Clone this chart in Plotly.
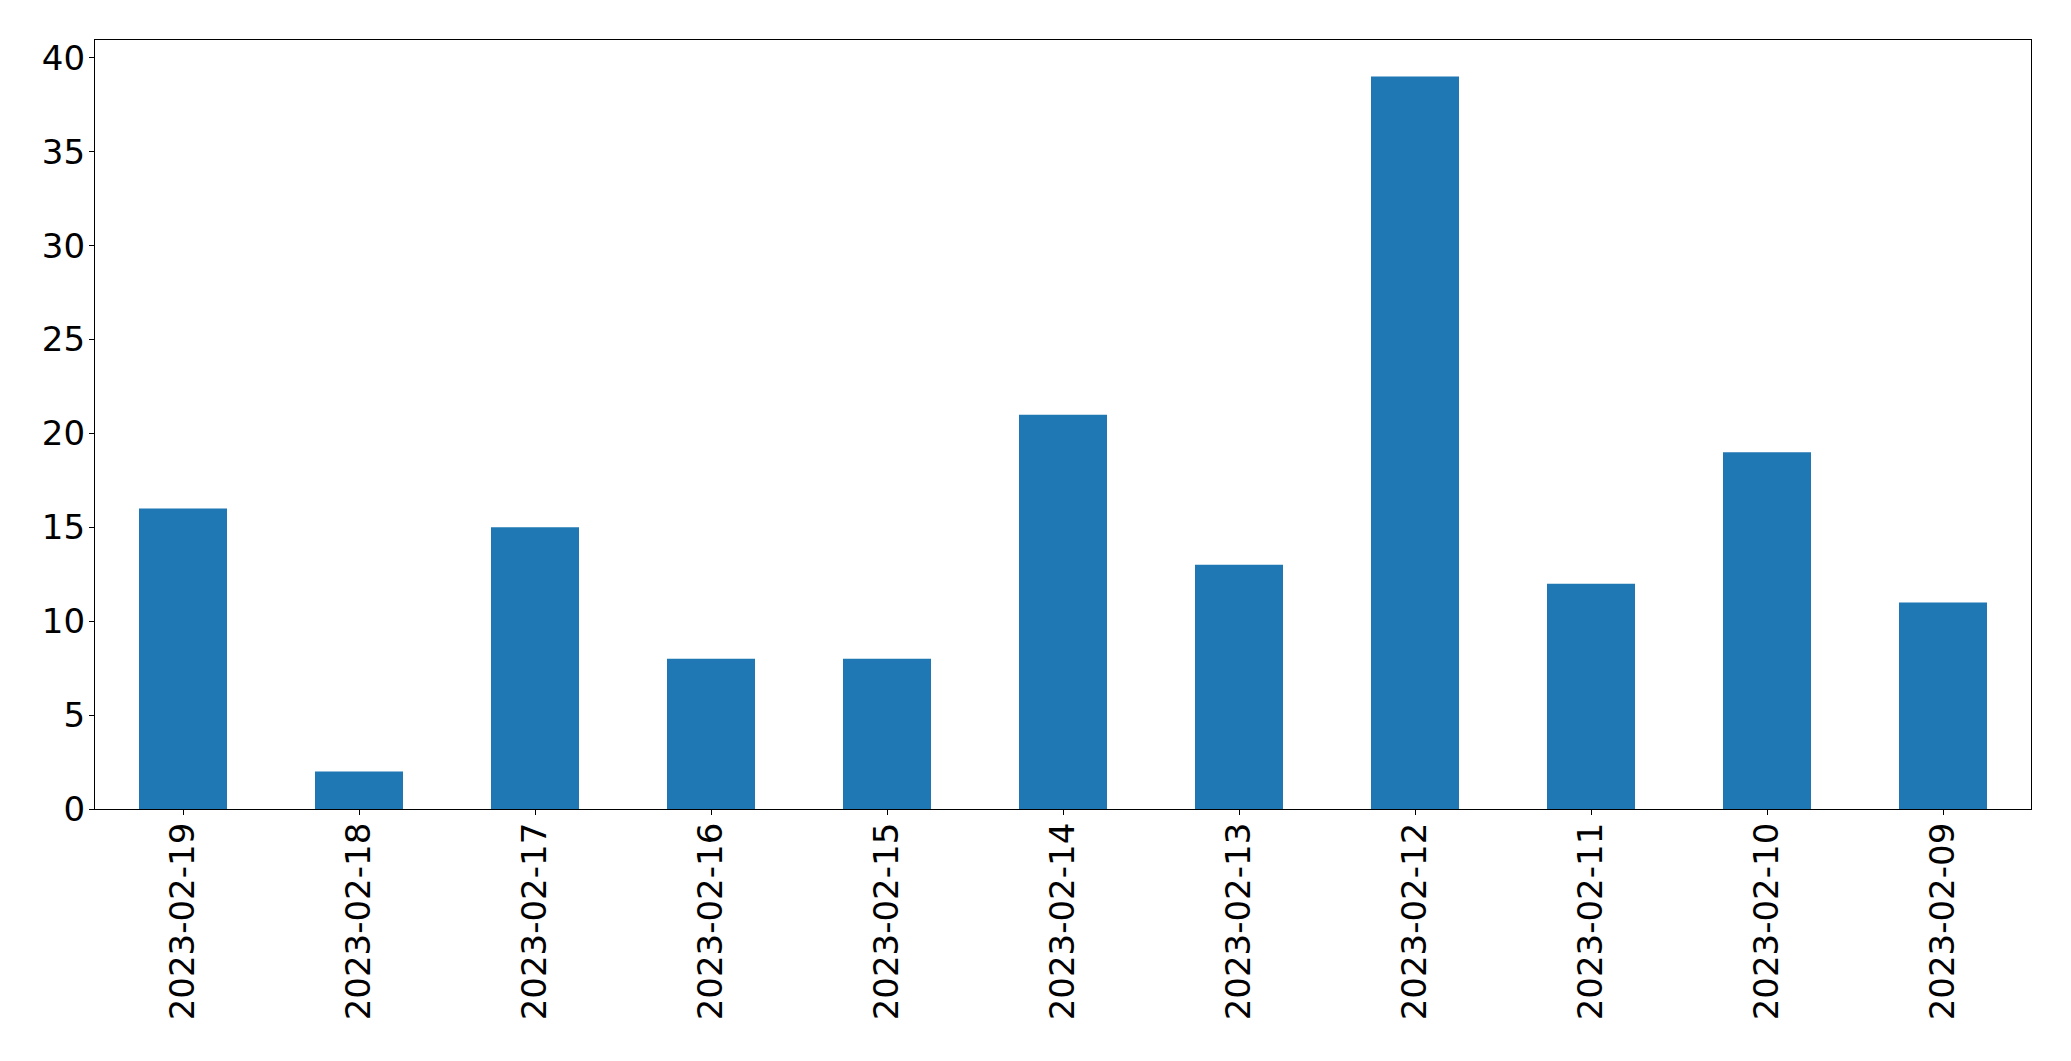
import plotly.graph_objects as go

dates = ["2023-02-19", "2023-02-18", "2023-02-17", "2023-02-16", "2023-02-15",
         "2023-02-14", "2023-02-13", "2023-02-12", "2023-02-11", "2023-02-10", "2023-02-09"]
counts = [16, 2, 15, 8, 8, 21, 13, 39, 12, 19, 11]
y_ticks = [0, 5, 10, 15, 20, 25, 30, 35, 40]

fig = go.Figure(go.Bar(x=dates, y=counts, width=0.5, marker=dict(color="#1f77b4", line=dict(width=0))))

axis_font = dict(family="DejaVu Sans", size=34, color="black")
fig.update_layout(
    width=2071, height=1061,
    margin=dict(l=95, r=40, t=40, b=252, autoexpand=False),
    plot_bgcolor="white", paper_bgcolor="white",
    showlegend=False,
    xaxis=dict(type="category", range=[-0.5, 10.5], tickangle=-90,
               showline=True, linecolor="black", linewidth=1.3, mirror=True,
               ticks="outside", ticklen=5, tickcolor="black", tickwidth=1.3,
               ticklabelstandoff=-6,
               tickfont=axis_font, showgrid=False, zeroline=False),
    yaxis=dict(range=[0, 40.95], tickvals=y_ticks,
               showline=True, linecolor="black", linewidth=1.3, mirror=True,
               ticks="outside", ticklen=5, tickcolor="black", tickwidth=1.3,
               ticklabelstandoff=-3,
               tickfont=axis_font, showgrid=False, zeroline=False),
)
fig.write_html("out.html", config={"displayModeBar": False},
               post_script="document.body.style.margin='0';document.body.style.overflow='hidden';")
